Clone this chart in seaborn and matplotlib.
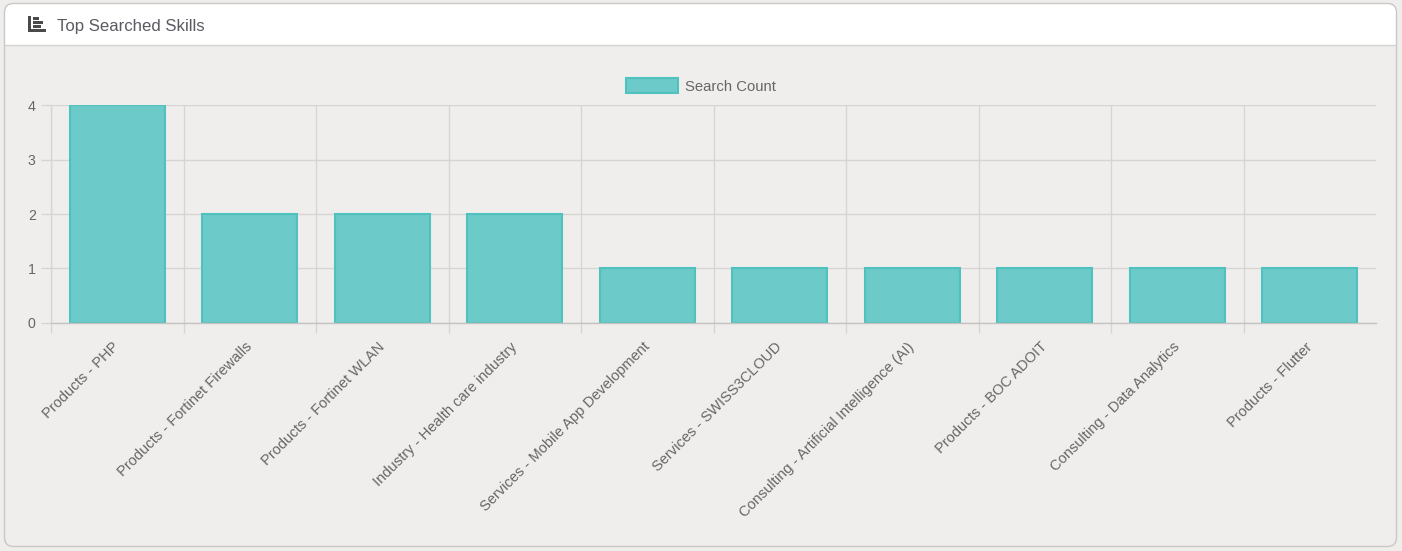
import numpy as np
import seaborn as sns
import matplotlib.pyplot as plt
from matplotlib.patches import FancyBboxPatch, Rectangle
from matplotlib.lines import Line2D

skills = [
    "Products - PHP",
    "Products - Fortinet Firewalls",
    "Products - Fortinet WLAN",
    "Industry - Health care industry",
    "Services - Mobile App Development",
    "Services - SWISS3CLOUD",
    "Consulting - Artificial Intelligence (AI)",
    "Products - BOC ADOIT",
    "Consulting - Data Analytics",
    "Products - Flutter",
]
search_counts = [4, 2, 2, 2, 1, 1, 1, 1, 1, 1]
y_ticks = [0, 1, 2, 3, 4]

W, H = 1402, 551
BG = "#efeeec"
GRID = "#d6d5d3"
TEXT = "#666666"
ICON = "#4a4a4a"

sns.set_theme(style="white")
plt.rcParams["font.family"] = ["Liberation Sans", "DejaVu Sans"]

fig = plt.figure(figsize=(W / 100, H / 100), dpi=100, facecolor=BG)


def fx(px):
    return px / W


def fy(px):
    return 1 - px / H


def box(x0, y0, x1, y1, **kw):
    fig.add_artist(Rectangle((fx(x0), fy(y1)), (x1 - x0) / W, (y1 - y0) / H,
                             transform=fig.transFigure, zorder=-1, **kw))


def rounded(x0, y0, x1, y1, **kw):
    # drawn in pixels so the corner radius stays round
    fig.add_artist(FancyBboxPatch((x0, H - y1), x1 - x0, y1 - y0,
                                  boxstyle="round,pad=0,rounding_size=9",
                                  transform=None, zorder=-1, **kw))


# card
rounded(4.5, 3.5, 1396.5, 60, facecolor="white", edgecolor="none")
box(4.5, 45, 1396.5, 546, facecolor=BG, edgecolor="none")
rounded(4.5, 3.5, 1396.5, 546.5, facecolor="none", edgecolor="#c9c8c6", linewidth=1)
fig.add_artist(Line2D([fx(5), fx(1396)], [fy(45), fy(45)], color="#d3d2d0", linewidth=1))

# header icon
box(28, 16, 31, 32, facecolor=ICON, edgecolor="none")
box(28, 29, 46, 32, facecolor=ICON, edgecolor="none")
box(33, 17, 39, 19.5, facecolor=ICON, edgecolor="none")
box(33, 21, 43, 23.5, facecolor=ICON, edgecolor="none")
box(33, 25, 41, 27.5, facecolor=ICON, edgecolor="none")

fig.text(fx(57), fy(24.5), "Top Searched Skills", fontsize=12.1, color="#5a5a62",
         ha="left", va="center_baseline")

ax = fig.add_axes([fx(51), fy(322.5), (1376 - 51) / W, (322.5 - 105.5) / H])
ax.set_facecolor("none")

sns.barplot(x=skills, y=search_counts, ax=ax, width=0.72, saturation=1,
            color="#6ccac8", edgecolor="#4fc2c0", linewidth=1.5, label="Search Count", zorder=3)

ax.set_xlim(-0.5, len(skills) - 0.5)
ax.set_ylim(0, 4)
ax.set_yticks(y_ticks)
ax.set_xticks(np.arange(len(skills)) - 0.5, minor=True)

ax.grid(True, axis="y", which="major", color=GRID, linewidth=1)
ax.grid(True, axis="x", which="minor", color=GRID, linewidth=1)
ax.grid(False, axis="x", which="major")
ax.set_axisbelow(True)

ax.tick_params(axis="x", which="major", bottom=False, length=0, pad=16)
ax.tick_params(axis="x", which="minor", bottom=True, length=7, width=1, color=GRID)
ax.tick_params(axis="y", left=True, length=7, width=1, color=GRID, labelsize=10.2,
               labelcolor=TEXT, pad=4)
for lab in ax.get_yticklabels():
    lab.set_va("center_baseline")
for lab in ax.get_xticklabels():
    lab.set_rotation(45)
    lab.set_rotation_mode("anchor")
    lab.set_ha("right")
    lab.set_va("center")
    lab.set_fontsize(10.5)
    lab.set_color(TEXT)

for side in ["top", "right"]:
    ax.spines[side].set_visible(False)
ax.spines["left"].set_color(GRID)
ax.spines["bottom"].set_color("#c4c3c1")
ax.spines["bottom"].set_zorder(4)
ax.spines["left"].set_linewidth(1)
ax.spines["bottom"].set_linewidth(1)

ax.legend(loc="lower center", bbox_to_anchor=(0.4902, 1.0), frameon=False, fontsize=10.7,
          labelcolor=TEXT, handlelength=3.5, handleheight=1.2, handletextpad=0.47,
          borderpad=0, borderaxespad=0.8)

fig.savefig("out.png", dpi=100, facecolor=BG)
